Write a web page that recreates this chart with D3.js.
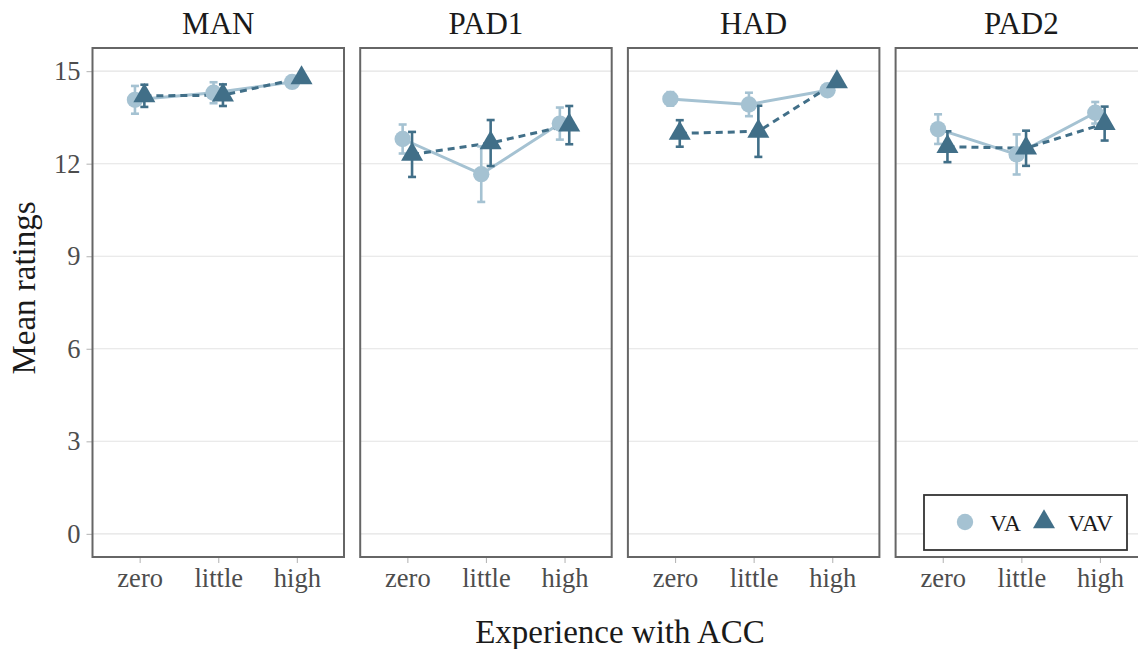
<!DOCTYPE html>
<html>
<head>
<meta charset="utf-8">
<script src="https://cdn.jsdelivr.net/npm/d3@7"></script>
<style>
  body { margin: 0; background: #fff; }
  svg text { font-family: 'Liberation Serif', 'Times New Roman', 'DejaVu Serif', serif; }
</style>
</head>
<body>
<div id="chart"></div>
<script>
// data
var panels = ["MAN", "PAD1", "HAD", "PAD2"];
var levels = ["zero", "little", "high"];
var yTicks = [0, 3, 6, 9, 12, 15];

var vaMean  = [[14.07, 14.30, 14.65], [12.80, 11.66, 13.30], [14.10, 13.92, 14.38], [13.12, 12.30, 13.65]];
var vaErr   = [[0.45, 0.34, 0.10],    [0.47, 0.90, 0.52],    [0.22, 0.38, 0.12],    [0.48, 0.65, 0.35]];
var vavMean = [[14.20, 14.22, 14.78], [12.30, 12.67, 13.25], [12.98, 13.05, 14.65], [12.55, 12.50, 13.30]];
var vavErr  = [[0.36, 0.35, 0.08],    [0.73, 0.745, 0.62],   [0.43, 0.83, 0.10],    [0.50, 0.57, 0.55]];

var series = [
    { name: "VA",  mean: vaMean,  err: vaErr,  color: "#a5c2d2", dash: null,  shape: d3.symbolCircle,   dodge: -1 },
    { name: "VAV", mean: vavMean, err: vavErr, color: "#416f88", dash: "7,5", shape: d3.symbolTriangle, dodge: 1 }
];

const W = 1138, H = 649;
const panelLeft = 92.5, panelW = 251.5, panelGap = 16.2,
      panelTop = 48, panelBottom = 557;

var svg = d3.select("#chart").append("svg")
    .attr("width", W)
    .attr("height", H);

var y = d3.scaleLinear()
    .domain([-0.75, 15.75])
    .range([panelBottom, panelTop]);

var x = d3.scalePoint()
    .domain(levels)
    .range([0, panelW])
    .padding(0.6);

const dodgeW = 4.7;   // px offset of each group
const symSize = 210;

panels.forEach(function(p, i){
    var g = svg.append("g")
        .attr("transform", "translate(" + (panelLeft + i * (panelW + panelGap)) + ",0)");

    // grid
    g.append("g").selectAll("line")
        .data(yTicks)
        .enter().append("line")
        .attr("x1", 0).attr("x2", panelW)
        .attr("y1", d => y(d)).attr("y2", d => y(d))
        .attr("stroke", "#e3e3e3")
        .attr("stroke-width", 1.1);

    // strip title
    g.append("text")
        .attr("x", panelW / 2)
        .attr("y", 34)
        .attr("text-anchor", "middle")
        .attr("font-size", 31)
        .attr("fill", "#1a1a1a")
        .text(p);

    // x axis
    var xa = g.append("g")
        .attr("transform", "translate(0," + panelBottom + ")")
        .call(d3.axisBottom(x).tickSize(6).tickPadding(5));
    xa.select(".domain").remove();
    xa.selectAll(".tick line").attr("stroke", "#b8b8b8").attr("stroke-width", 1.1);
    xa.selectAll(".tick text")
        .attr("font-size", 26.5)
        .attr("fill", "#4d4d4d")
        .attr("font-family", null);

    if (i === 0) {
        var ya = g.append("g")
            .call(d3.axisLeft(y).tickValues(yTicks).tickSize(6).tickPadding(6));
        ya.select(".domain").remove();
        ya.selectAll(".tick line").attr("stroke", "#b8b8b8").attr("stroke-width", 1.1);
        ya.selectAll(".tick text")
            .attr("font-size", 26.5)
            .attr("fill", "#4d4d4d")
            .attr("font-family", null);
    }

    // lines
    series.forEach(function(s){
        var pts = levels.map((l, k) => ({ x: x(l) + s.dodge * dodgeW, y: s.mean[i][k] }));
        g.append("path")
            .datum(pts)
            .attr("fill", "none")
            .attr("stroke", s.color)
            .attr("stroke-width", 3)
            .attr("stroke-dasharray", s.dash)
            .attr("d", d3.line().x(d => d.x).y(d => y(d.y)));
    });

    // error bars
    series.forEach(function(s){
        var eb = g.append("g")
            .attr("stroke", s.color)
            .attr("stroke-width", 2.6)
            .selectAll("g")
            .data(levels.map((l, k) => ({ x: x(l) + s.dodge * dodgeW, m: s.mean[i][k], e: s.err[i][k] })))
            .enter().append("g");
        eb.append("line")
            .attr("x1", d => d.x).attr("x2", d => d.x)
            .attr("y1", d => y(d.m - d.e)).attr("y2", d => y(d.m + d.e));
        eb.append("line")
            .attr("x1", d => d.x - 4).attr("x2", d => d.x + 4)
            .attr("y1", d => y(d.m + d.e)).attr("y2", d => y(d.m + d.e));
        eb.append("line")
            .attr("x1", d => d.x - 4).attr("x2", d => d.x + 4)
            .attr("y1", d => y(d.m - d.e)).attr("y2", d => y(d.m - d.e));
    });

    // points
    series.forEach(function(s){
        g.append("g").selectAll("path")
            .data(levels.map((l, k) => ({ x: x(l) + s.dodge * dodgeW, m: s.mean[i][k] })))
            .enter().append("path")
            .attr("d", d3.symbol().type(s.shape).size(symSize))
            .attr("transform", d => "translate(" + d.x + "," + y(d.m) + ")")
            .attr("fill", s.color);
    });

    // panel border
    g.append("rect")
        .attr("x", 0).attr("y", panelTop)
        .attr("width", panelW).attr("height", panelBottom - panelTop)
        .attr("fill", "none")
        .attr("stroke", "#666")
        .attr("stroke-width", 2);

    // legend inside last panel
    if (i === panels.length - 1) {
        var lg = g.append("g").attr("transform", "translate(" + (924 - 895.6) + ",495)");
        lg.append("rect")
            .attr("width", 203).attr("height", 55)
            .attr("fill", "#fff")
            .attr("stroke", "#333")
            .attr("stroke-width", 1.8);
        var keyX = [41, 120], txtX = [66, 144];
        series.forEach(function(s, k){
            lg.append("path")
                .attr("d", d3.symbol().type(s.shape).size(symSize))
                .attr("transform", "translate(" + keyX[k] + ",27)")
                .attr("fill", s.color);
            lg.append("text")
                .attr("x", txtX[k]).attr("y", 36)
                .attr("font-size", 23.5)
                .attr("fill", "#1a1a1a")
                .text(s.name);
        });
    }
});

// axis titles
svg.append("text")
    .attr("x", 620)
    .attr("y", 643)
    .attr("text-anchor", "middle")
    .attr("font-size", 33)
    .attr("fill", "#1a1a1a")
    .text("Experience with ACC");

svg.append("text")
    .attr("transform", "translate(35,288) rotate(-90)")
    .attr("text-anchor", "middle")
    .attr("font-size", 33)
    .attr("fill", "#1a1a1a")
    .text("Mean ratings");
</script>
</body>
</html>
